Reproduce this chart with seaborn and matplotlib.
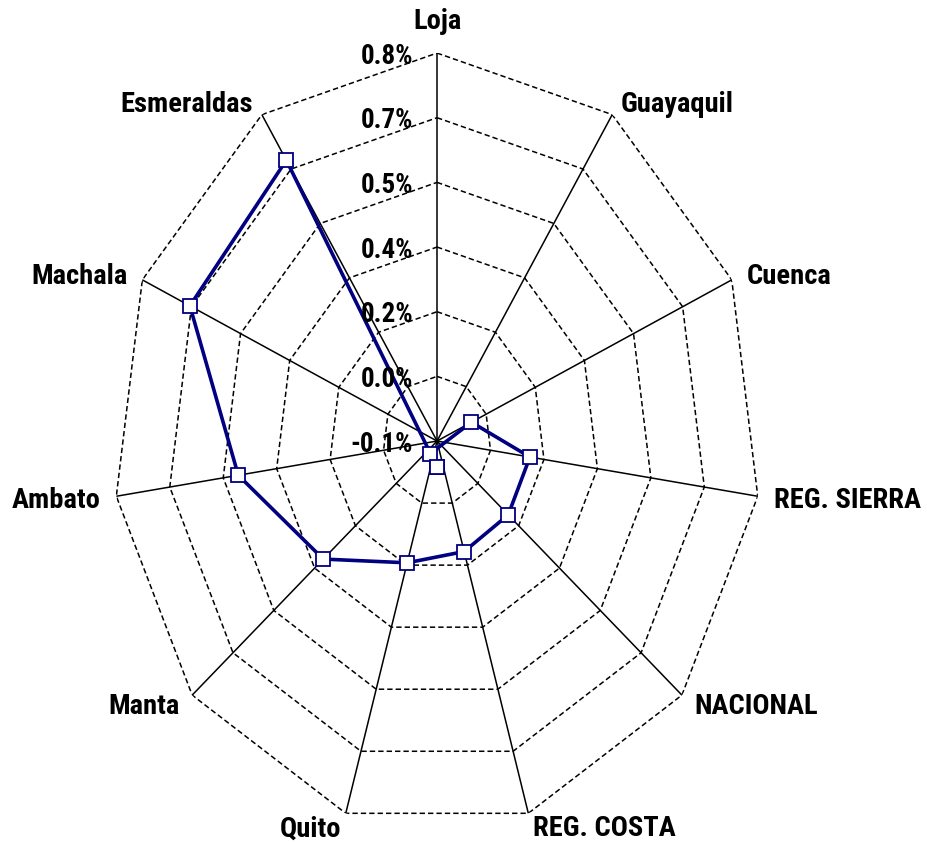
import numpy as np
import pandas as pd
import matplotlib
matplotlib.use("Agg")
import matplotlib.pyplot as plt
from matplotlib import font_manager as fm
import seaborn as sns

# ---- data ----
categories = ["Loja", "Guayaquil", "Cuenca", "REG. SIERRA", "NACIONAL",
              "REG. COSTA", "Quito", "Manta", "Ambato", "Machala", "Esmeraldas"]
values = [-0.184, -0.157, -0.008, 0.158, 0.159, 0.165, 0.194, 0.326, 0.475, 0.685, 0.706]
tick_values = [-0.12, 0.04, 0.20, 0.36, 0.52, 0.68, 0.84]
tick_labels = ["-0.1%", "0.0%", "0.2%", "0.4%", "0.5%", "0.7%", "0.8%"]


def pick_font():
    tl = fm.fontManager.ttflist
    names = {f.name for f in tl}
    prefs = ["Liberation Sans Narrow", "Arial Narrow", "Roboto Condensed",
             "Noto Sans Condensed", "Open Sans Condensed", "Noto Sans SemiCondensed",
             "DejaVu Sans Condensed"]
    for p in prefs:
        if p in names:
            return p, "normal", True
    for fam in ["Liberation Sans", "Roboto", "Noto Sans", "Open Sans", "DejaVu Sans"]:
        for f in tl:
            if f.name == fam and str(f.stretch) in ("condensed", "semi-condensed"):
                return fam, str(f.stretch), True
    return "Liberation Sans", "normal", False


FAMILY, STRETCH, NARROW = pick_font()
CAT_FS = 20.5 if NARROW else 16.5
TICK_FS = 19.5 if NARROW else 15.5

sns.set_theme(style="white")
plt.rcParams["font.family"] = [FAMILY, "Liberation Sans", "DejaVu Sans"]
plt.rcParams["font.stretch"] = STRETCH
plt.rcParams["font.weight"] = "bold"

NAVY = "#000080"
n = len(categories)
theta = np.arange(n) * 2 * np.pi / n
rmin, rmax = tick_values[0], tick_values[-1]

fig = plt.figure(figsize=(9.28, 8.42), dpi=100)
ax = fig.add_axes([0.1218, 0.0154, 0.6983, 0.9216], projection="polar")
ax.set_aspect("auto")
ax.set_theta_zero_location("N")
ax.set_theta_direction(-1)
ax.set_ylim(rmin, rmax)
ax.grid(False)
ax.spines["polar"].set_visible(False)
ax.set_xticks([])
ax.set_yticks([])
ax.patch.set_alpha(0)

# spokes
for t in theta:
    ax.plot([t, t], [rmin, rmax], color="black", lw=1.1, zorder=1)

# dashed polygon rings
closed_theta = np.append(theta, theta[0])
for tv in tick_values[1:]:
    ax.plot(closed_theta, [tv] * (n + 1), color="black", lw=1.1,
            linestyle=(0, (3.5, 2)), zorder=1)

# values below the axis minimum are drawn on the opposite side (as in Excel radar)
th_plot, r_plot = [], []
for t, v in zip(theta, values):
    if v < rmin:
        th_plot.append(t + np.pi)
        r_plot.append(2 * rmin - v)
    else:
        th_plot.append(t)
        r_plot.append(v)
th_plot.append(th_plot[0])
r_plot.append(r_plot[0])
df = pd.DataFrame({"theta": th_plot, "r": r_plot})

sns.lineplot(data=df, x="theta", y="r", sort=False, estimator=None, ax=ax,
             color=NAVY, lw=2.6, marker="s", markersize=9.5,
             markerfacecolor="white", markeredgecolor=NAVY, markeredgewidth=1.3,
             zorder=5, clip_on=False)
ax.set_xlabel("")
ax.set_ylabel("")

# radial tick labels
for tv, tl in zip(tick_values, tick_labels):
    ax.annotate(tl, xy=(0, tv), xytext=(-24, -3), textcoords="offset pixels",
                ha="right", va="center", fontsize=TICK_FS, fontweight="bold",
                color="black", zorder=6, annotation_clip=False)

# category labels
for t, lab in zip(theta, categories):
    s, c = np.sin(t), np.cos(t)
    if abs(s) < 0.15:
        ha = "center"
        xo = 0
        yo = 2 - 14 * c - (20 if c > 0 else 0)
    else:
        ha = "left" if s > 0 else "right"
        xo = 16 * s
        yo = 2 - 14 * c
    ax.annotate(lab, xy=(t, rmax), xytext=(xo, -yo), textcoords="offset pixels",
                ha=ha, va="center", fontsize=CAT_FS, fontweight="bold",
                color="black", annotation_clip=False)

fig.savefig("out.png", dpi=100, facecolor="white")
